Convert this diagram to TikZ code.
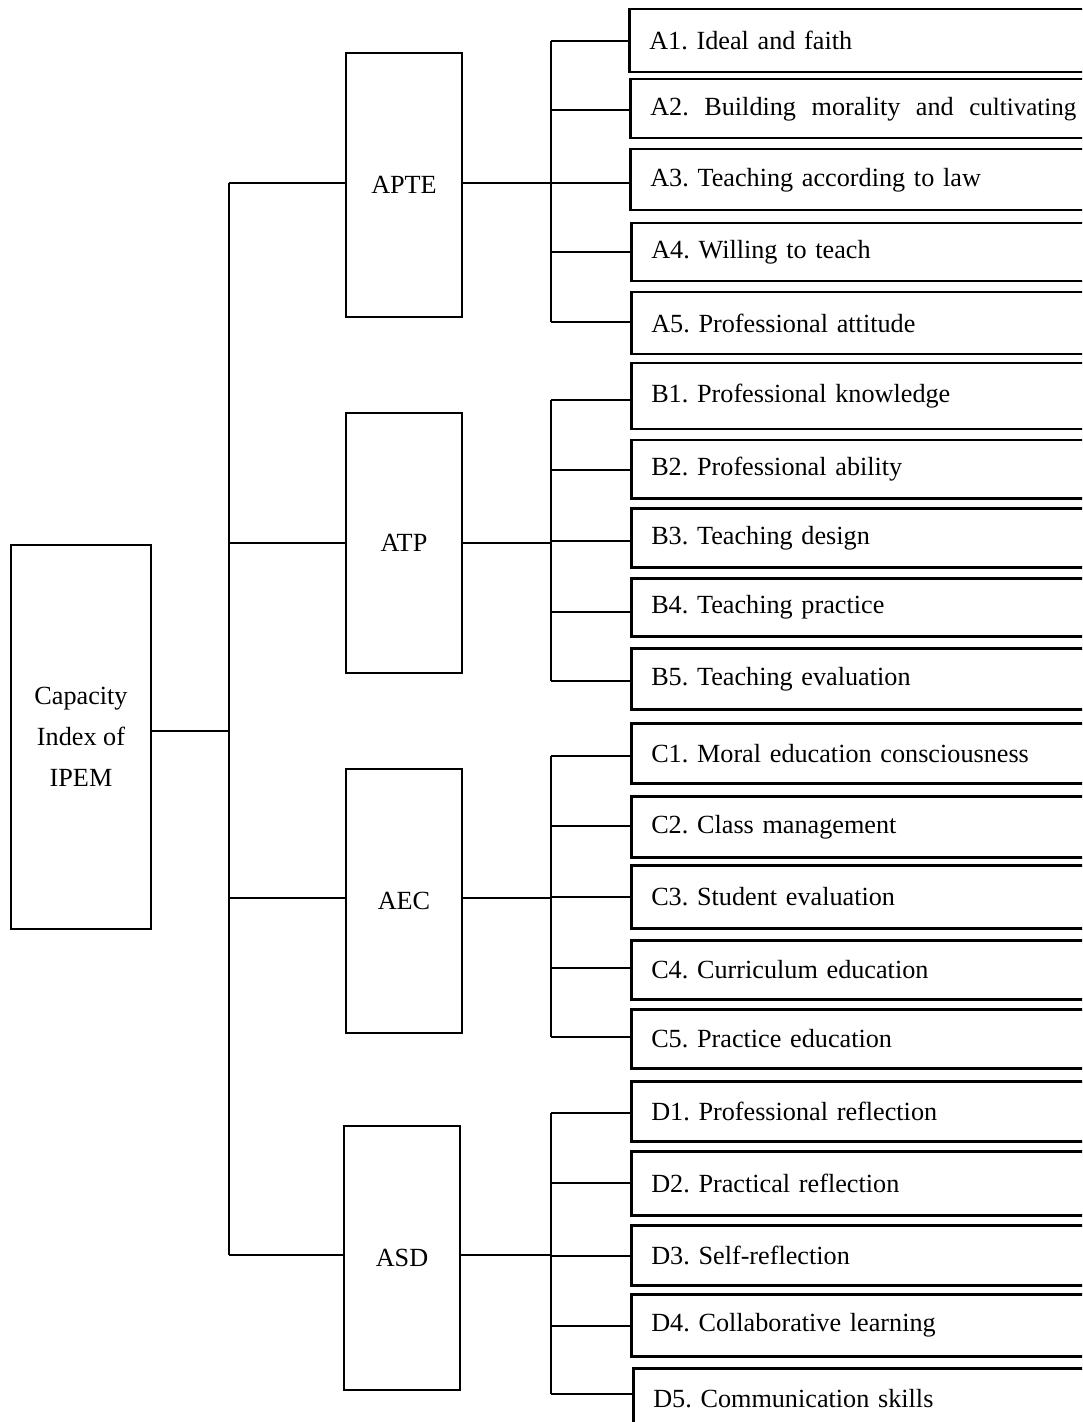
\documentclass[tikz,border=0pt]{standalone}
\usepackage{fontspec}
\setmainfont{Liberation Serif}
\frenchspacing
\begin{document}
\begin{tikzpicture}[x=0.5pt,y=-0.5pt,
  conn/.style={line width=1.1pt},
  box/.style={draw, rectangle, inner sep=0pt, line width=1.25pt,
    font=\fontsize{13.1}{20.5}\selectfont},
  leaf/.style={box, anchor=north west, text width=210pt, inner xsep=10pt, align=left},
  mid/.style={box, minimum width=58pt},
  rootbox/.style={box, minimum width=70pt, minimum height=192pt, align=center}]
\useasboundingbox (0,0) rectangle (1082,1422);
\clip (0,0) rectangle (1082,1422);

% root
\node[rootbox] (root) at (81,737) {Capacity\\Index of\\IPEM};

% middle level
\node[mid, minimum height=132pt] (APTE) at (404,185) {APTE};
\node[mid, minimum height=130pt] (ATP)  at (404,543) {ATP};
\node[mid, minimum height=132pt] (AEC)  at (404,901) {AEC};
\node[mid, minimum height=132pt] (ASD)  at (402,1258) {ASD};

% trunk
\coordinate (rj) at (229,731);
\coordinate (tA) at (229,183);
\coordinate (tB) at (229,543);
\coordinate (tC) at (229,898);
\coordinate (tD) at (229,1255);
\draw[conn] (root.east |- rj) -- (rj);
\draw[conn] (tA) -- (tD);
\foreach \m/\t in {APTE/tA, ATP/tB, AEC/tC, ASD/tD}{
  \draw[conn] (\t) -- (\m.west |- \t);
}

% sub trunks
\coordinate (sA) at (551,183);
\coordinate (sB) at (551,543);
\coordinate (sC) at (551,898);
\coordinate (sD) at (551,1255);
\foreach \m/\s in {APTE/sA, ATP/sB, AEC/sC, ASD/sD}{
  \draw[conn] (\m.east |- \s) -- (\s);
}
\coordinate (sAt) at (551,41);   \coordinate (sAb) at (551,322);
\coordinate (sBt) at (551,400);  \coordinate (sBb) at (551,681);
\coordinate (sCt) at (551,756);  \coordinate (sCb) at (551,1037);
\coordinate (sDt) at (551,1113); \coordinate (sDb) at (551,1394);
\draw[conn] (sAt) -- (sAb);
\draw[conn] (sBt) -- (sBb);
\draw[conn] (sCt) -- (sCb);
\draw[conn] (sDt) -- (sDb);

% leaves
\foreach \nm/\x/\t/\b/\l/\txt in {
  A1/628/8/71/41/{A1. Ideal and faith},
  A2/629/78/137/110/{\makebox[213pt][l]{A2.\hfill Building\hfill morality\hfill and\hfill{\fontsize{12.5}{14}\selectfont cultivating}}},
  A3/629/148/209/183/{A3. Teaching according to law},
  A4/630/222/280/252/{A4. Willing to teach},
  A5/630/291/353/322/{A5. Professional attitude},
  B1/630/362/428/400/{B1. Professional knowledge},
  B2/630/439/497/470/{B2. Professional ability},
  B3/630/507/566/541/{B3. Teaching design},
  B4/630/577/635/612/{B4. Teaching practice},
  B5/630/647/708/681/{B5. Teaching evaluation},
  C1/630/722/782/756/{C1. Moral education consciousness},
  C2/630/795/856/826/{C2. Class management},
  C3/630/864/927/897/{C3. Student evaluation},
  C4/630/939/998/968/{C4. Curriculum education},
  C5/630/1008/1067/1037/{C5. Practice education},
  D1/630/1080/1140/1113/{D1. Professional reflection},
  D2/630/1150/1214/1183/{D2. Practical reflection},
  D3/630/1224/1284/1256/{D3. Self-reflection},
  D4/630/1293/1355/1326/{D4. Collaborative learning},
  D5/632/1367/1428/1394/{D5. Communication skills}}{
  \node[leaf, minimum height={(\b-\t)*0.5pt}] (\nm) at (\x,\t) {\txt};
  \coordinate (j\nm) at (551,\l);
  \draw[conn] (j\nm) -- (\nm.west |- j\nm);
}
\end{tikzpicture}
\end{document}
